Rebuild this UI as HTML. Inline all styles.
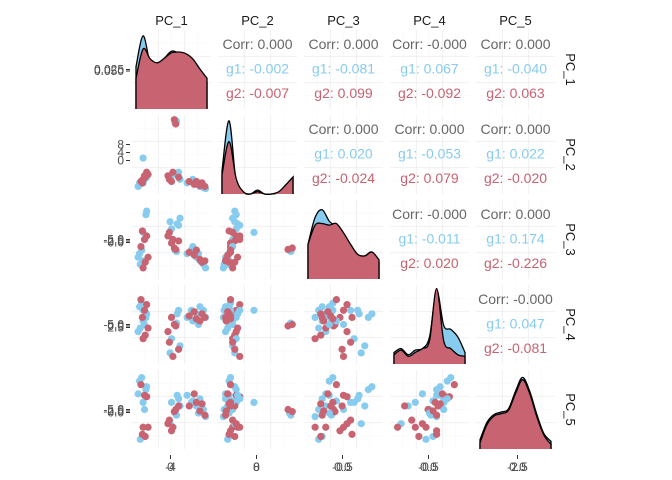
<!DOCTYPE html>
<html><head><meta charset="utf-8"><style>
body{margin:0;background:#fff}
svg{display:block;font-family:"Liberation Sans",sans-serif}
</style></head><body>
<svg id="c" width="672" height="480"></svg>
<script>
const names=["PC_1","PC_2","PC_3","PC_4","PC_5"];
// per-sample values (normalized within each PC range) and group
const pc1=[0.05,0.08,0.1,0.12,0.06,0.1,0.14,0.15,0.03,0.07,0.12,0.15,0.1,0.13,0.17,0.09,0.55,0.57,0.5,0.6,0.62,0.48,0.58,0.54,0.56,0.45,0.47,0.52,0.6,0.5,0.72,0.78,0.85,0.9,0.95,0.8,0.88,0.98,0.75,0.82,0.9,0.93,0.97,0.85];
const pc2=[0.1,0.12,0.45,0.15,0.08,0.1,0.2,0.18,0.05,0.12,0.2,0.25,0.15,0.18,0.22,0.1,0.95,0.97,0.2,0.25,0.15,0.18,0.22,0.99,0.93,0.2,0.15,0.25,0.18,0.12,0.1,0.12,0.08,0.05,0.03,0.15,0.1,0.02,0.12,0.08,0.06,0.1,0.05,0.12];
const pc3=[0.3,0.35,0.6,0.5,0.15,0.2,0.85,0.9,0.25,0.4,0.5,0.55,0.1,0.18,0.25,0.62,0.35,0.33,0.65,0.7,0.8,0.75,0.72,0.38,0.36,0.55,0.6,0.5,0.48,0.45,0.3,0.35,0.25,0.2,0.15,0.4,0.3,0.1,0.32,0.28,0.22,0.18,0.2,0.35];
const pc4=[0.75,0.8,0.7,0.5,0.45,0.55,0.6,0.65,0.4,0.85,0.7,0.78,0.3,0.35,0.45,0.6,0.5,0.52,0.3,0.7,0.2,0.1,0.65,0.5,0.48,0.4,0.25,0.05,0.15,0.6,0.6,0.7,0.65,0.75,0.7,0.55,0.5,0.6,0.62,0.68,0.55,0.65,0.6,0.58];
const pc5=[0.9,0.95,0.6,0.5,0.08,0.12,0.78,0.82,0.72,0.85,0.7,0.68,0.25,0.12,0.25,0.15,0.45,0.42,0.6,0.65,0.55,0.3,0.7,0.47,0.5,0.3,0.35,0.25,0.55,0.2,0.7,0.6,0.55,0.65,0.5,0.62,0.45,0.4,0.55,0.72,0.48,0.58,0.42,0.6];
const grp=[1,1,1,1,1,1,1,1,1,2,2,2,2,2,2,2,1,1,1,1,1,1,1,2,2,2,2,2,2,2,1,1,1,1,1,1,1,1,2,2,2,2,2,2];
const dx=[0,0.1,0.2,0.3,0.4,0.5,0.6,0.7,0.8,0.9,1];
const d1b=[0.55,0.95,0.6,0.58,0.66,0.75,0.72,0.62,0.55,0.45,0.35];
const d1r=[0.4,0.78,0.65,0.6,0.66,0.73,0.74,0.72,0.65,0.52,0.4];
const d2b=[0.3,0.95,0.15,0.02,0.0,0.05,0.0,0.0,0.02,0.12,0.22];
const d2r=[0.25,0.68,0.2,0.03,0.0,0.03,0.0,0.0,0.03,0.12,0.22];
const d3b=[0.45,0.8,0.9,0.75,0.68,0.55,0.45,0.3,0.3,0.35,0.22];
const d3r=[0.45,0.7,0.72,0.7,0.72,0.6,0.45,0.32,0.3,0.35,0.25];
const d4b=[0.15,0.2,0.12,0.18,0.2,0.35,0.95,0.5,0.45,0.35,0.15];
const d4r=[0.12,0.18,0.1,0.15,0.2,0.3,0.98,0.3,0.2,0.12,0.1];
const d5b=[0.12,0.35,0.45,0.48,0.52,0.75,0.93,0.75,0.45,0.2,0.1];
const d5r=[0.08,0.32,0.43,0.46,0.5,0.72,0.9,0.72,0.42,0.18,0.06];
const dens=[[d1b,d1r],[d2b,d2r],[d3b,d3r],[d4b,d4r],[d5b,d5r]];
const corrTxt=[["0.000","-0.002","-0.007"],["0.000","-0.081","0.099"],["-0.000","0.067","-0.092"],["0.000","-0.040","0.063"],
["0.000","0.020","-0.024"],["0.000","-0.053","0.079"],["0.000","0.022","-0.020"],
["-0.000","-0.011","0.020"],["0.000","0.174","-0.226"],["-0.000","0.047","-0.081"]];
const yTicks=[["0.025","0.050"],["8","4","0"],["-5.0","-2.5","0.0"],["-5.0","0.0","2.5"],["-5.0","-2.5","0.0"]];
const xTicks=[["-4","0"],["0","8"],["-0.5","0.0"],["-0.5","0.0"],["-2.5","0.0"]];
const cols=[pc1,pc2,pc3,pc4,pc5];
const BLUE="#87CCEE",RED="#C86371";
const svg=document.getElementById('c');const NS="http://www.w3.org/2000/svg";
function mk(t,a,p){const e=document.createElementNS(NS,t);for(const k in a)e.setAttribute(k,a[k]);(p||svg).appendChild(e);return e;}
const PX=132,PY=30,PW=79,PH=79,SX=86,SY=85;
function sx(c,v){return PX+c*SX+4+v*71;}
function sy(r,v){return PY+r*SY+PH-4-v*71;}
function curve(c,r,arr){
  const pts=dx.map((x,i)=>[sx(c,x),PY+r*SY+PH-arr[i]*(PH-2)]);
  let d="M"+pts[0][0]+","+(PY+r*SY+PH)+"L"+pts[0][0]+","+pts[0][1];
  for(let i=0;i<pts.length-1;i++){const p0=pts[Math.max(0,i-1)],p1=pts[i],p2=pts[i+1],p3=pts[Math.min(pts.length-1,i+2)];
    d+=`C${p1[0]+(p2[0]-p0[0])/6},${p1[1]+(p2[1]-p0[1])/6} ${p2[0]-(p3[0]-p1[0])/6},${p2[1]-(p3[1]-p1[1])/6} ${p2[0]},${p2[1]}`;}
  return d+"L"+pts[pts.length-1][0]+","+(PY+r*SY+PH);
}
let ci=0;
for(let r=0;r<5;r++)for(let c=0;c<5;c++){
  const g=mk('g',{});
  
  
  const x0=PX+c*SX,y0=PY+r*SY;
  for(let k=1;k<=5;k++){const col=k%2?"#f7f7f7":"#eeeeee",w=k%2?0.6:0.9;
    mk('line',{x1:x0+k*PW/6,x2:x0+k*PW/6,y1:y0,y2:y0+PH,stroke:col,"stroke-width":w},g);
    mk('line',{y1:y0+k*PH/6,y2:y0+k*PH/6,x1:x0,x2:x0+PW,stroke:col,"stroke-width":w},g);}
  if(c>r){
    const t=corrTxt[ci++];const cx=x0+PW/2;
    [["Corr: "+t[0],"#666"],["g1: "+t[1],BLUE],["g2: "+t[2],RED]].forEach((s,i)=>{
      const e=mk('text',{x:cx,y:y0+19+i*24.5,"text-anchor":"middle","font-size":"14",fill:s[1]},g);e.textContent=s[0];
      });
  } else if(c==r){
    const p1=mk('path',{d:curve(c,r,dens[r][0]),fill:BLUE,stroke:"#000","stroke-width":1.3},g);
    
    const p2=mk('path',{d:curve(c,r,dens[r][1]),fill:RED,stroke:"#000","stroke-width":1.3},g);
    
  } else {
    const X=cols[c],Y=cols[r];
    for(let i=0;i<X.length;i++){const p=mk('circle',{cx:sx(c,X[i]),cy:sy(r,Y[i]),r:3.6,fill:grp[i]==1?BLUE:RED},g);
      }
  }
}
const lab=(x,y,s,a,n,rot)=>{const e=mk('text',Object.assign({x:x,y:y,"font-size":"13",fill:"#1a1a1a","text-anchor":a},rot?{transform:`rotate(90 ${x} ${y})`}:{}));e.textContent=s;
  };
for(let k=0;k<5;k++){
  lab(PX+k*SX+PW/2,25,names[k],"middle","top-strip-label");
  lab(566,PY+k*SY+PH/2,names[k],"middle","right-strip-label",true);
  const tc=PY+k*SY+PH/2+(k==1?-2:0);
  yTicks[k].forEach((t,j)=>{const yy=k==1?tc-8+j*8:tc+j*1.5;const e=mk('text',{x:124,y:yy+4,"font-size":"12",fill:"#4d4d4d","text-anchor":"end"});e.textContent=t;
    
    mk('line',{x1:126,x2:130,y1:yy,y2:yy,stroke:"#333"});});
  const xc=PX+k*SX+PW/2-(k==4?-2:1);
  xTicks[k].forEach(t=>{const e=mk('text',{x:xc,y:471,"font-size":"12",fill:"#4d4d4d","text-anchor":"middle"});e.textContent=t;
    });
  mk('line',{x1:xc,x2:xc,y1:455,y2:459,stroke:"#333"});
}
</script>
</body></html>
